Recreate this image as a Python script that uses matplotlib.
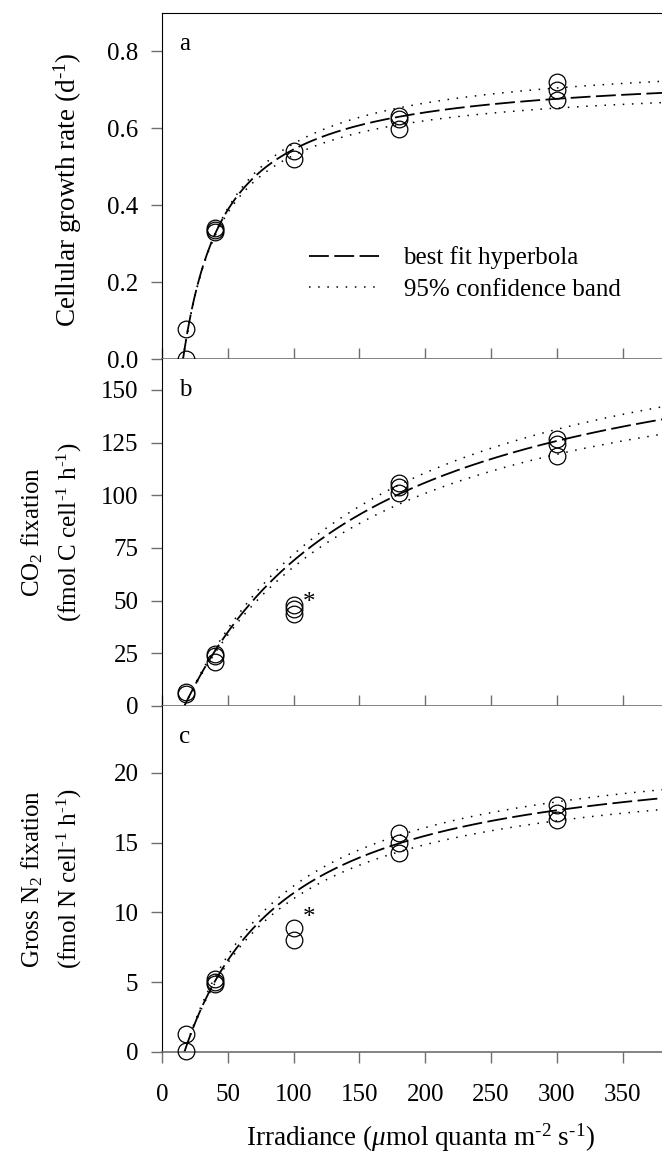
import numpy as np
import matplotlib
matplotlib.use("Agg")
import matplotlib.pyplot as plt
from matplotlib.lines import Line2D

plt.rcParams['font.family'] = ['Liberation Serif', 'DejaVu Serif']
plt.rcParams['mathtext.fontset'] = 'custom'
plt.rcParams['mathtext.rm'] = 'Liberation Serif'
plt.rcParams['mathtext.it'] = 'Liberation Serif:italic'
plt.rcParams['font.size'] = 18

# measured points (irradiance, value)
irr_a = [18, 18, 40, 40, 40, 100, 100, 180, 180, 180, 300, 300, 300]
growth = [0.0, 0.077, 0.342, 0.336, 0.331, 0.54, 0.521, 0.633, 0.625, 0.597, 0.72, 0.70, 0.675]

irr_b = [18, 18, 40, 40, 40, 100, 100, 100, 180, 180, 180, 300, 300, 300]
co2 = [6.5, 5.5, 24.5, 23.5, 21.0, 48.0, 46.0, 43.5, 106.0, 104.0, 101.0, 126.5, 124.5, 118.5]

irr_c = [18, 18, 40, 40, 40, 100, 100, 180, 180, 180, 300, 300, 300]
n2 = [0.05, 1.3, 5.25, 5.0, 4.9, 8.9, 8.0, 15.7, 15.0, 14.25, 17.7, 17.1, 16.6]

# hyperbola fit parameters (Pmax, K, I0) for fit, upper and lower band
fit_a = [(0.753, 32.0, 16), (0.791, 34.6, 16), (0.723, 30.6, 16)]
fit_b = [(191.0, 146.7, 17), (199.5, 147.0, 17), (179.9, 143.2, 17)]
fit_c = [(22.1, 78.0, 17), (22.7, 75.3, 17), (21.0, 75.6, 17)]

ylims = [(0, 0.9), (0, 164.7), (0, 24.8)]
yticks = [[0.0, 0.2, 0.4, 0.6, 0.8], [0, 25, 50, 75, 100, 125, 150], [0, 5, 10, 15, 20]]
yfmt = ['%.1f', '%d', '%d']
letters = ['a', 'b', 'c']
xticks = [0, 50, 100, 150, 200, 250, 300, 350]

W, H = 662, 1152
fig = plt.figure(figsize=(W / 100, H / 100), dpi=100)
left = 162 / W
tops = [13, 359, 706]
bots = [359, 706, 1052]
gray = '#6e6e6e'

axs = []
for i in range(3):
    ax = fig.add_axes([left, 1 - bots[i] / H, 1 - left, (bots[i] - tops[i]) / H])
    axs.append(ax)

data = [(irr_a, growth, fit_a), (irr_b, co2, fit_b), (irr_c, n2, fit_c)]

def hyper(I, p):
    P, K, I0 = p
    return P * (I - I0) / (K + I - I0)

for i, ax in enumerate(axs):
    xs, ys, fits = data[i]
    xx = np.linspace(fits[0][2], 380, 300)
    l, = ax.plot(xx, hyper(xx, fits[0]), color='black', lw=1.3, clip_on=False)
    l.set_dashes((11, 3))
    for p in fits[1:]:
        xb = np.linspace(p[2], 380, 300)
        d, = ax.plot(xb, hyper(xb, p), color='black', lw=1.1)
        d.set_dashes((1, 5))
    ax.plot(xs, ys, 'o', ms=12, mfc='none', mec='black', mew=0.9, clip_on=False, zorder=5)

    ax.set_xlim(0, 380)
    ax.set_ylim(*ylims[i])
    ax.set_yticks(yticks[i])
    ax.set_yticklabels([yfmt[i] % v for v in yticks[i]])
    ax.set_xticks(xticks)
    ax.spines['right'].set_visible(False)
    ax.spines['left'].set_color('black')
    ax.spines['bottom'].set_color(gray)
    ax.spines['bottom'].set_linewidth(1.2)
    ax.spines['top'].set_visible(i == 0)
    ax.tick_params(axis='y', direction='out', length=8, width=1, color=gray, pad=9)
    if i < 2:
        ax.tick_params(axis='x', direction='in', length=8, width=1, color=gray, labelbottom=False)
    else:
        ax.tick_params(axis='x', direction='out', length=8, width=1, color=gray, pad=15)
    ax.text(0.035, 0.91, letters[i], transform=ax.transAxes, fontsize=18, ha='left', va='center')

# asterisks for the 100 umol points
axs[1].text(107, 49, '*', fontsize=18, ha='left', va='center')
axs[2].text(107, 9.6, '*', fontsize=18, ha='left', va='center')

# y labels
fig.text(68 / W, 1 - 190 / H, r'Cellular growth rate (d$^{\text{-1}}$)', rotation=90,
         ha='center', va='center', fontsize=19.5)
fig.text(52 / W, 1 - 532 / H, 'CO$_2$ fixation\n' + r'(fmol C cell$^{\text{-1}}$ h$^{\text{-1}}$)',
         rotation=90, ha='center', va='center', multialignment='center', linespacing=1.45)
fig.text(52 / W, 1 - 879 / H, 'Gross N$_2$ fixation\n' + r'(fmol N cell$^{\text{-1}}$ h$^{\text{-1}}$)',
         rotation=90, ha='center', va='center', multialignment='center', linespacing=1.45)
fig.text(420 / W, 1 - 1138 / H, r'Irradiance ($\mathit{\mu}$mol quanta m$^{\text{-2}}$ s$^{\text{-1}}$)',
         ha='center', va='center', fontsize=19.5)

# legend
h1 = Line2D([], [], color='black', lw=1.3)
h1.set_dashes((11, 3))
h2 = Line2D([], [], color='black', lw=1.1)
h2.set_dashes((1, 5))
axs[0].legend([h1, h2], ['best fit hyperbola', '95% confidence band'], frameon=False,
              loc='upper left', bbox_to_anchor=(296 / W, 1 - 234 / H), bbox_transform=fig.transFigure,
              handlelength=2.8, handletextpad=1.0, labelspacing=0.35, borderpad=0, fontsize=18)

fig.savefig('out.png', dpi=100)
